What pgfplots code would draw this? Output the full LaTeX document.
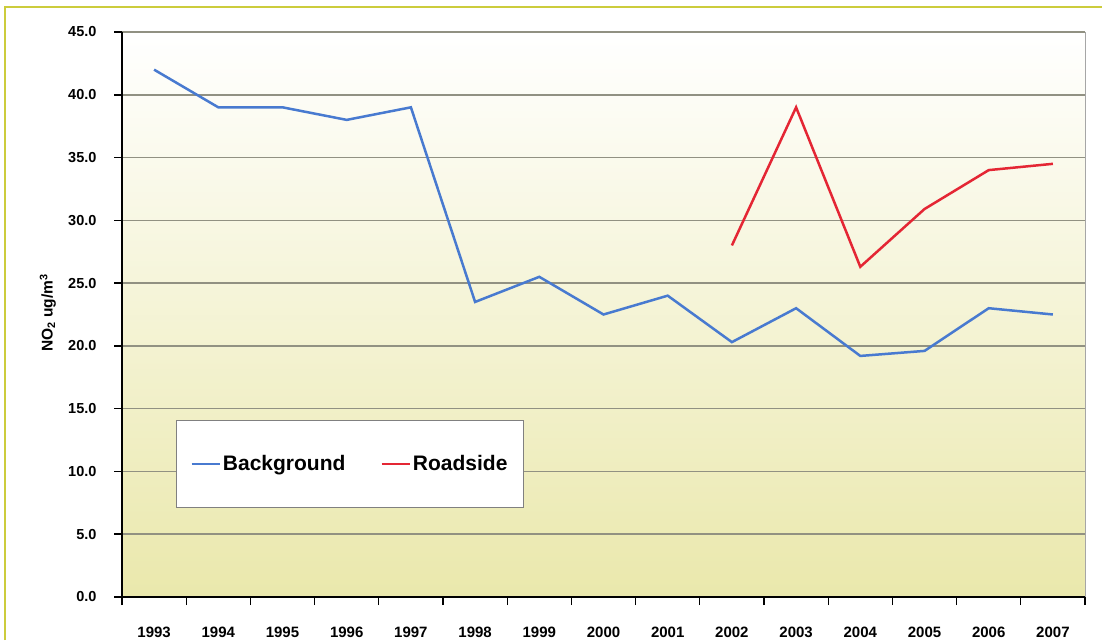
\documentclass[border=0pt]{standalone}
\usepackage{pgfplots}
\pgfplotsset{compat=1.18}
\usepackage{fontspec}
\setmainfont{Liberation Sans}
\definecolor{bgblue}{RGB}{72,122,208}
\definecolor{rsred}{RGB}{228,38,52}
\definecolor{framey}{RGB}{204,204,60}
\definecolor{gridc}{RGB}{145,145,130}
\definecolor{fillbot}{RGB}{234,232,172}
\begin{document}
\begin{tikzpicture}[x=1pt,y=1pt]
\path[use as bounding box] (0,0) rectangle (1102,640);
\draw[framey, line width=2pt] (5,0) -- (5,633) -- (1102,633);
\begin{axis}[
  at={(122pt,43pt)}, anchor=south west,
  scale only axis, width=963pt, height=565pt,
  xmin=-0.5, xmax=14.5, ymin=0, ymax=45,
  clip=false,
  axis background/.style={top color=white, bottom color=fillbot},
  axis lines*=left,
  axis line style={black, line width=2pt, -},
  ymajorgrids, grid style={gridc, line width=1.5pt},
  ytick={0,5,...,45},
  xtick={-0.5,0.5,...,14.5},
  xticklabels={1993,1994,1995,1996,1997,1998,1999,2000,2001,2002,2003,2004,2005,2006,2007,{}},
  x tick label style={xshift=32.1pt, yshift=-18pt, font=\fontsize{15}{15}\selectfont\bfseries},
  y tick label style={xshift=-14pt, font=\fontsize{14.5}{15}\selectfont\bfseries},
  yticklabel style={/pgf/number format/.cd, fixed, fixed zerofill, precision=1, assume math mode=true},
  tick align=outside, major tick length=8pt,
  xtick style={draw=black, line width=1.3pt},
  ytick style={draw=black, line width=1.6pt},
  every axis y label/.style={at={(axis description cs:-0.077,0.503)}, rotate=90, anchor=center},
  ylabel={NO\textsubscript{2} ug/m\textsuperscript{3}},
  ylabel style={font=\fontsize{15.5}{15}\selectfont\bfseries},
  legend columns=2,
  legend style={at={(axis description cs:0.056,0.313)}, anchor=north west,
    draw=gray, line width=1pt, fill=white, inner xsep=14pt, inner ysep=33pt,
    font=\fontsize{21}{24}\selectfont\bfseries,
    /tikz/every even column/.append style={column sep=33pt}},
  legend image code/.code={\draw[#1, line width=2.5pt] (0pt,0pt) -- (28pt,0pt);},
]
\addplot[bgblue, line width=2.5pt] coordinates {
(0,42.0) (1,39.0) (2,39.0) (3,38.0) (4,39.0) (5,23.5) (6,25.5) (7,22.5)
(8,24.0) (9,20.3) (10,23.0) (11,19.2) (12,19.6) (13,23.0) (14,22.5)};
\addlegendentry{Background}
\addplot[rsred, line width=2.5pt] coordinates {
(9,28.0) (10,39.0) (11,26.3) (12,30.9) (13,34.0) (14,34.5)};
\addlegendentry{Roadside}
\draw[gray!70, line width=1pt] (rel axis cs:1,0) -- (rel axis cs:1,1);
\pgfplotsinvokeforeach{0,5,10,15,20,25,30,35,40,45}{
  \draw[black, line width=1.4pt] (axis cs:-0.5,#1) -- ++(-7pt,0pt);
}
\end{axis}
\end{tikzpicture}
\end{document}
